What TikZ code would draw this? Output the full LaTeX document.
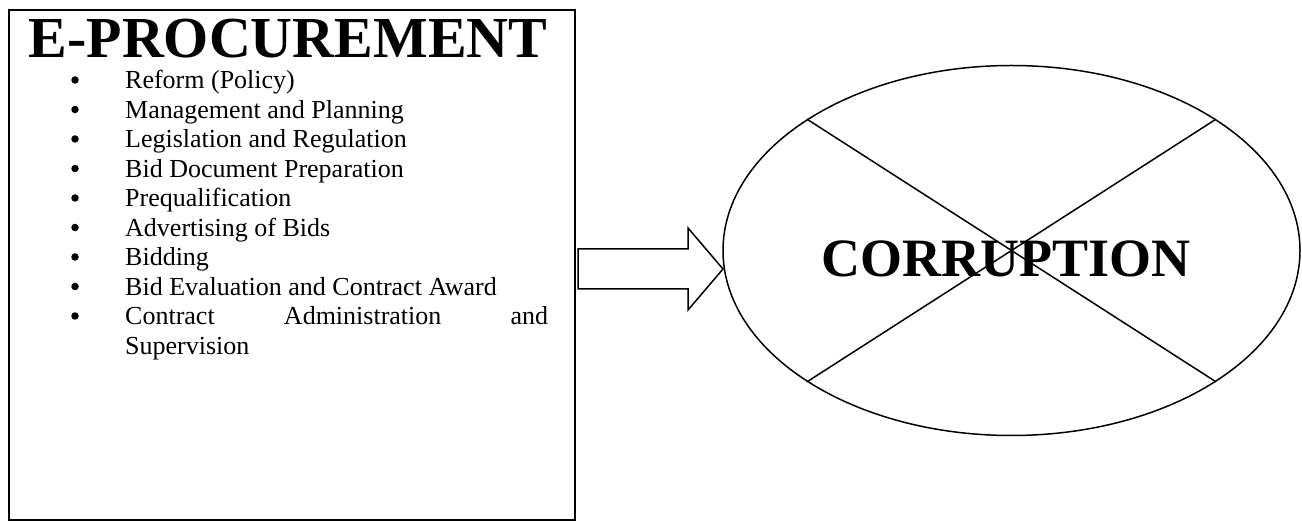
\documentclass[tikz,border=0pt]{standalone}
\usepackage{fontspec}
\setmainfont{Liberation Serif}
\usetikzlibrary{shapes.geometric}
\begin{document}
\begin{tikzpicture}[x=1pt,y=-1pt,
  listfont/.style={font=\fontsize{26}{29.5}\selectfont},
  entry/.style={listfont, anchor=base west, inner sep=0pt},
  bulletmark/.style={circle, fill=black, inner sep=0pt, minimum size=7.5pt},
  thin line/.style={line width=1.5pt},
]
\useasboundingbox (0,0) rectangle (1302,521);

% left panel
\node[draw, line width=2pt, anchor=north west, inner sep=0pt,
      minimum width=566pt, minimum height=510pt] (box) at (8,9) {};
\node[anchor=base, inner sep=0pt, font=\fontsize{58}{60}\selectfont\bfseries]
  (title) at (288,58) {E-PROCUREMENT};

\foreach \txt [count=\i] in {Reform (Policy), Management and Planning,
    Legislation and Regulation, Bid Document Preparation, Prequalification,
    Advertising of Bids, Bidding, Bid Evaluation and Contract Award} {
  \node[bulletmark] (dot\i) at (75,50.5+29.5*\i) {};
  \node[entry] (item\i) at (125,59.5+29.5*\i) {\txt};
}
\node[bulletmark] (dot9) at (75,316) {};
\node[entry] (item9) at (125,325) {\makebox[423pt][s]{Contract Administration and}};
\node[entry] (item9b) at (125,354.5) {Supervision};

% right panel
\node[draw, thin line, ellipse, inner sep=0pt,
      minimum width=577pt, minimum height=370pt] (ell) at (1011.5,250.5) {};
\draw[thin line] (ell.north west) -- (ell.south east);
\draw[thin line] (ell.north east) -- (ell.south west);
\node[anchor=base, inner sep=0pt, font=\fontsize{54}{56}\selectfont\bfseries]
  (word) at (1006,277) {CORRUPTION};

% block arrow between the panels
\coordinate (tail) at (578,269);
\coordinate (tip) at (723,269);
\draw[thin line, line join=miter]
  (tail |- 0,249) -- (688,249) -- (688,228) -- (tip)
  -- (688,310) -- (688,289) -- (tail |- 0,289) -- cycle;
\end{tikzpicture}
\end{document}
